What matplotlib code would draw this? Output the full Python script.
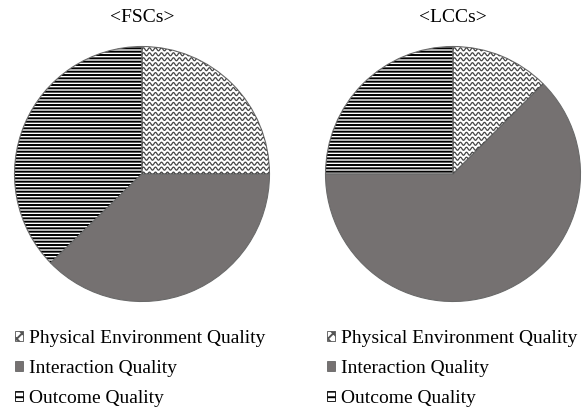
"""Service quality composition: FSCs vs LCCs pie charts."""
import numpy as np
import matplotlib
matplotlib.use("Agg")
import matplotlib.pyplot as plt
from matplotlib.collections import LineCollection
from matplotlib.patches import Patch

plt.rcParams["font.family"] = ["Liberation Serif", "DejaVu Serif"]
plt.rcParams["hatch.linewidth"] = 1.4
plt.rcParams["hatch.color"] = "black"

categories = ["Physical Environment Quality", "Interaction Quality", "Outcome Quality"]
fsc_shares = [25.0, 37.7, 37.3]
lcc_shares = [12.5, 62.5, 25.0]
panel_titles = ["<FSCs>", "<LCCs>"]

GRAY = "#757171"
EDGE = "#6a6a6a"
W, H = 585, 409
R_PX = 127.5


def wave_lines(radius=1.05, row_gap=0.039, period=0.047, amp=0.012):
    xs = np.linspace(-radius, radius, int(2 * radius / period * 12))
    segs = []
    for y0 in np.arange(-radius, radius, row_gap):
        ys = y0 + amp * np.sin(2 * np.pi * xs / period)
        segs.append(np.column_stack([xs, ys]))
    return segs


def draw_pie(cx, cy, shares, title):
    half = R_PX * 1.03
    ax = fig.add_axes([(cx - half) / W, (H - cy - half) / H, 2 * half / W, 2 * half / H])
    wedges, _ = ax.pie(
        shares,
        startangle=90,
        counterclock=False,
        colors=["white", GRAY, "white"],
        wedgeprops=dict(edgecolor="black", linewidth=0),
    )
    wedges[2].set_hatch("-----")

    waves = LineCollection(wave_lines(), colors="#454545", linewidths=0.9)
    ax.add_collection(waves)
    waves.set_clip_path(wedges[0])

    # outline drawn on top so the hatch keeps its black colour
    ax.pie(
        shares,
        startangle=90,
        counterclock=False,
        wedgeprops=dict(fill=False, edgecolor=EDGE, linewidth=0.8),
    )
    ax.set_xlim(-1.03, 1.03)
    ax.set_ylim(-1.03, 1.03)
    ax.set_aspect("equal")
    ax.axis("off")

    fig.text(cx / W, 1 - 18 / H, title, ha="center", va="center", fontsize=14)


fig = plt.figure(figsize=(W / 100, H / 100), dpi=100)

draw_pie(142, 174, fsc_shares, panel_titles[0])
draw_pie(453, 174, lcc_shares, panel_titles[1])

handles = [
    Patch(facecolor="white", edgecolor="#555555", hatch="xxx", linewidth=0.6),
    Patch(facecolor=GRAY, edgecolor="#555555", linewidth=0.5),
    Patch(facecolor="white", edgecolor="black", hatch="---", linewidth=0.6),
]
for x0 in (15, 327):
    fig.legend(
        handles,
        categories,
        loc="upper left",
        bbox_to_anchor=(x0 / W, 1 - 330 / H),
        frameon=False,
        fontsize=14,
        handlelength=0.42,
        handleheight=0.42,
        handletextpad=0.28,
        labelspacing=0.66,
        borderpad=0,
        borderaxespad=0,
    )

fig.savefig("out.png", dpi=100)
